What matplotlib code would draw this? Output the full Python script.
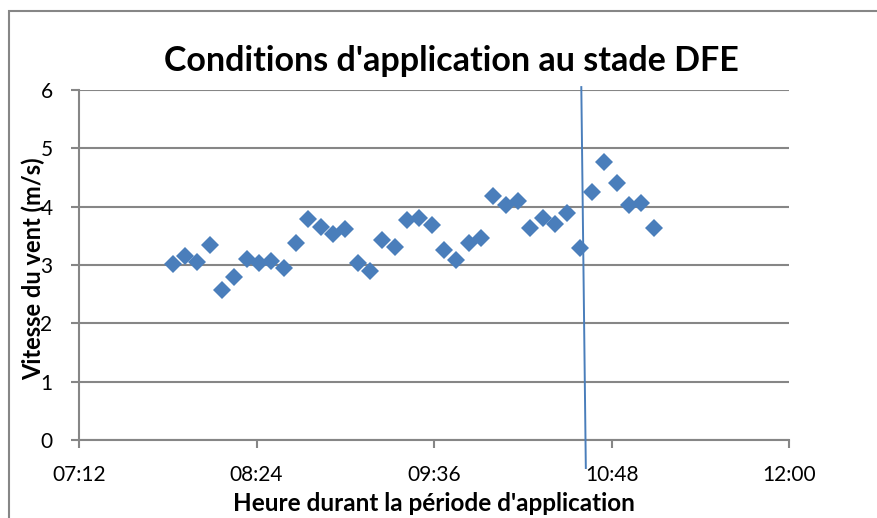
import matplotlib
matplotlib.use("Agg")
import matplotlib.pyplot as plt
import matplotlib.dates as mdates
from matplotlib.patches import Rectangle
from datetime import datetime

# --- données : vitesse du vent pendant l'application (stade DFE) ---
heures = ["07:50", "07:55", "08:00", "08:05", "08:10", "08:15", "08:20", "08:25",
          "08:30", "08:35", "08:40", "08:45", "08:50", "08:55", "09:00", "09:05",
          "09:10", "09:15", "09:20", "09:25", "09:30", "09:35", "09:40", "09:45",
          "09:50", "09:55", "10:00", "10:05", "10:10", "10:15", "10:20", "10:25",
          "10:30", "10:35", "10:40", "10:45", "10:50", "10:55", "11:00", "11:05"]
vitesse = [3.02, 3.15, 3.06, 3.34, 2.58, 2.80, 3.10, 3.03, 3.07, 2.95,
           3.38, 3.79, 3.65, 3.54, 3.61, 3.03, 2.89, 3.43, 3.31, 3.77,
           3.80, 3.69, 3.25, 3.09, 3.37, 3.46, 4.18, 4.03, 4.09, 3.63,
           3.80, 3.71, 3.90, 3.29, 4.26, 4.77, 4.40, 4.03, 4.07, 3.63]

# trait vertical (repère ajouté à la main sur le graphique)
trait_heures = ["10:35:40", "10:37:30"]
trait_valeurs = [6.05, -0.48]

graduations_x = ["07:12", "08:24", "09:36", "10:48", "12:00"]
graduations_y = [0, 1, 2, 3, 4, 5, 6]

BLEU = "#4a7ebb"
GRIS = "#868686"
POLICE = "Lato"


def to_dt(h):
    fmt = "%H:%M:%S" if h.count(":") == 2 else "%H:%M"
    t = datetime.strptime(h, fmt)
    return datetime(2000, 1, 1, t.hour, t.minute, t.second)


plt.rcParams["font.family"] = POLICE

fig = plt.figure(figsize=(8.77, 5.18), dpi=100)
ax = fig.add_axes([79 / 877, 1 - 440 / 518, (789.3 - 79) / 877, (440 - 90) / 518])

x = [to_dt(h) for h in heures]
ax.plot(x, vitesse, linestyle="none", marker="D", markersize=9.2,
        color=BLEU, markeredgewidth=0, zorder=3)

ax.plot([to_dt(h) for h in trait_heures], trait_valeurs, color=BLEU,
        linewidth=1.4, clip_on=False, zorder=4)

xt = [to_dt(h) for h in graduations_x]
ax.set_xlim(xt[0], xt[-1])
ax.set_xticks(xt)
ax.xaxis.set_major_formatter(mdates.DateFormatter("%H:%M"))
ax.set_ylim(0, 6)
ax.set_yticks(graduations_y)

ax.grid(axis="y", color=GRIS, linewidth=1.5)
ax.set_axisbelow(True)
for s in ("top", "right"):
    ax.spines[s].set_visible(False)
for s in ("left", "bottom"):
    ax.spines[s].set_color(GRIS)
    ax.spines[s].set_linewidth(1.5)

ax.tick_params(axis="both", direction="out", length=6, width=1.5, color=GRIS,
               labelsize=15, labelcolor="black")
ax.tick_params(axis="y", pad=13)
ax.tick_params(axis="x", pad=12)

ax.set_title("Conditions d'application au stade DFE", fontsize=24.5,
             fontweight="bold", x=0.524, pad=14)
ax.set_xlabel("Heure durant la période d'application", fontsize=17.5,
              fontweight="bold")
ax.xaxis.set_label_coords(0.5, -0.148)
ax.set_ylabel("Vitesse du vent (m/s)", fontsize=17, fontweight="bold")
ax.yaxis.set_label_coords(-0.048, 0.49)

# cadre extérieur de la zone de graphique
fig.patches.append(Rectangle((9 / 877, -0.2), 2, 1 - 11 / 518 + 0.2,
                             transform=fig.transFigure, fill=False,
                             edgecolor=GRIS, linewidth=1.5))

fig.savefig("out.png", dpi=100)
